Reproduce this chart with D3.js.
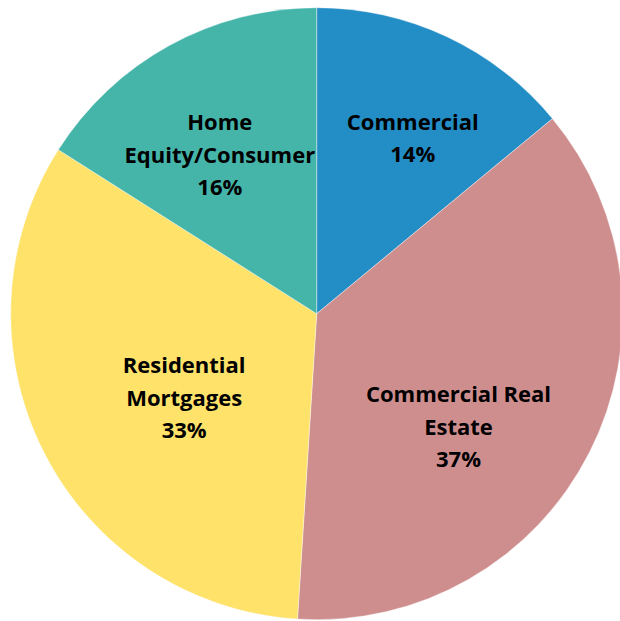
<!DOCTYPE html>
<html>
<head>
<meta charset="utf-8">
<script src="https://cdn.jsdelivr.net/npm/d3@7"></script>
<style>
  body { margin: 0; background: #fff; }
  svg { display: block; }
</style>
</head>
<body>
<svg id="chart"></svg>
<script>
const width = 620;
const height = 621;

// data
const categories = ['Commercial', 'Commercial Real Estate', 'Residential Mortgages', 'Home Equity/Consumer'];
const shares = [14, 37, 33, 16];
const labelLines = [
    ['Commercial'],
    ['Commercial Real', 'Estate'],
    ['Residential', 'Mortgages'],
    ['Home', 'Equity/Consumer']
];
const colors = ['#238DC6', '#CF8E8E', '#FEE26A', '#45B5AA'];

// layout
const cx = 316.7, cy = 313.7, radius = 306;
const lineHeight = 32.5;
// label block anchor as [angle in degrees, distance from centre]
const labelSpots = [[28.7, 200], [128.6, 181.5], [237.6, 157], [328.6, 186]];

const svg = d3.select('#chart')
    .attr('width', width)
    .attr('height', height);

const g = svg.append('g').attr('transform', `translate(${cx},${cy})`);

const pie = d3.pie().sort(null).value(d => d);
const arc = d3.arc().innerRadius(0).outerRadius(radius);
const arcs = pie(shares);

g.selectAll('path')
    .data(arcs)
    .enter()
    .append('path')
    .attr('d', arc)
    .attr('fill', (d, i) => colors[i])
    .attr('stroke', '#fff')
    .attr('stroke-width', 0.4);

const labels = g.selectAll('text.label')
    .data(arcs)
    .enter()
    .append('text')
    .attr('class', 'label')
    .attr('text-anchor', 'middle')
    .attr('font-family', '"Open Sans", sans-serif')
    .attr('font-weight', 700)
    .attr('font-size', 22)
    .style('font-variant-ligatures', 'none')
    .attr('fill', '#000')
    .each(function(d, i) {
        const lines = labelLines[i].concat([shares[i] + '%']);
        const a = labelSpots[i][0] * Math.PI / 180;
        const x = Math.sin(a) * labelSpots[i][1];
        const y = -Math.cos(a) * labelSpots[i][1];
        const top = y - (lines.length - 1) * lineHeight / 2;
        d3.select(this).selectAll('tspan')
            .data(lines)
            .enter()
            .append('tspan')
            .attr('x', x)
            .attr('y', (l, j) => top + j * lineHeight)
            .attr('dy', '0.35em')
            .text(l => l);
    });
</script>
</body>
</html>
